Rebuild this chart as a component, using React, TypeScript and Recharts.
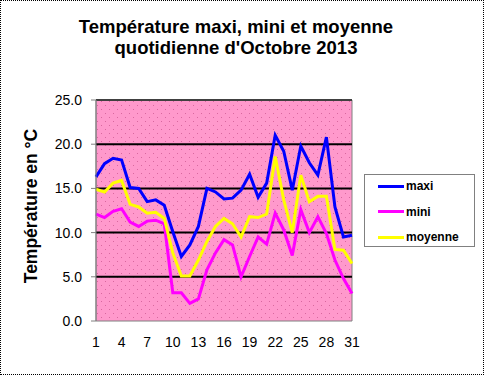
import React from "react";
import {
  LineChart, Line, XAxis, YAxis, ReferenceArea, ReferenceLine, Legend,
} from "recharts";

const days = Array.from({ length: 31 }, (_, i) => i + 1);
const maxi = [16.3, 17.8, 18.4, 18.2, 15.1, 15.0, 13.5, 13.7, 13.1, 10.1, 7.3, 8.6, 10.7, 15.0, 14.6, 13.8, 13.9, 14.8, 16.6, 14.0, 15.6, 21.0, 19.2, 14.8, 19.8, 17.9, 16.5, 20.8, 12.9, 9.5, 9.7];
const mini = [12.1, 11.7, 12.4, 12.7, 11.2, 10.7, 11.3, 11.4, 11.0, 3.2, 3.2, 2.0, 2.5, 5.8, 7.7, 9.2, 8.6, 5.0, 7.3, 9.5, 8.7, 12.2, 10.3, 7.4, 12.6, 10.0, 11.8, 9.9, 6.9, 4.8, 3.1];
const moyenne = [14.9, 14.6, 15.6, 15.9, 13.2, 12.9, 12.2, 12.3, 11.6, 7.7, 5.1, 5.1, 6.9, 9.0, 10.7, 11.6, 11.0, 9.5, 11.8, 11.7, 12.1, 18.6, 13.7, 10.0, 16.5, 13.5, 14.1, 14.1, 8.1, 8.0, 6.5];
const yTicks = [0, 5, 10, 15, 20, 25];
const gridValues = [5, 10, 15, 20];
const boundaryTicks = Array.from({ length: 32 }, (_, i) => i);

const data = days.map((d, i) => ({ day: d, pos: d - 0.5, maxi: maxi[i], mini: mini[i], moyenne: moyenne[i] }));

const series = [
  { key: "maxi", color: "#0000FF" },
  { key: "mini", color: "#FF00FF" },
  { key: "moyenne", color: "#FFFF00" },
];

const font = "'Liberation Sans', Arial, sans-serif";

const LegendBox = () => (
  <div style={{ position: "relative", width: 109, height: 71, border: "1px solid #808080", background: "#fff", boxSizing: "content-box", fontFamily: font }}>
    {series.map((s, i) => (
      <div key={s.key} style={{ position: "absolute", left: 13, top: 3 + i * 25.5, height: 16, display: "flex", alignItems: "center" }}>
        <div style={{ width: 26, height: 3, background: s.color }} />
        <span style={{ fontSize: 12, fontWeight: "bold", marginLeft: 2 }}>{s.key}</span>
      </div>
    ))}
  </div>
);

export default function App() {
  return (
    <div style={{ position: "absolute", left: 0, top: 0, width: 484, height: 375, background: "#fff", fontFamily: font }}>
      <div style={{ position: "absolute", left: 0, top: 0, width: 482, height: 373, border: "1px dotted #000" }} />
      <div style={{ position: "absolute", left: 0, top: 16, width: 472, textAlign: "center", fontSize: 18.5, fontWeight: "bold", lineHeight: "21px" }}>
        Température maxi, mini et moyenne<br />quotidienne d'Octobre 2013
      </div>
      <div style={{ position: "absolute", left: 31, top: 206, transform: "translate(-50%, -50%) rotate(-90deg)", whiteSpace: "nowrap", fontSize: 17.5, fontWeight: "bold" }}>
        Température en °C
      </div>
      <LineChart width={484} height={375} data={data} margin={{ top: 100, right: 132, bottom: 24, left: 36 }} style={{ position: "absolute", left: 0, top: 0 }}>
        <defs>
          <pattern id="dots" width="8" height="8" patternUnits="userSpaceOnUse">
            <rect width="8" height="8" fill="#FF99CC" />
            <rect x="1" y="1" width="1" height="1" fill="#D9679F" />
            <rect x="5" y="5" width="1" height="1" fill="#D9679F" />
          </pattern>
        </defs>
        <XAxis xAxisId="b" type="number" dataKey="pos" domain={[0, 31]} ticks={boundaryTicks} height={0} tickSize={4} tickFormatter={() => ""} stroke="#808080" axisLine={{ stroke: "#808080" }} />
        <XAxis dataKey="day" interval={2} tickLine={false} axisLine={false} height={30} tick={{ fill: "#000", fontSize: 14, fontFamily: font }} tickMargin={10} />
        <YAxis domain={[0, 25]} ticks={yTicks} width={60} tickSize={5} tickMargin={9} stroke="#808080" tickFormatter={(v: number) => v.toFixed(1)} tick={{ fill: "#000", fontSize: 14, fontFamily: font }} />
        <ReferenceArea y1={0} y2={25} fill="url(#dots)" fillOpacity={1} stroke="#808080" strokeWidth={1} ifOverflow="visible" />
        <ReferenceLine y={25} stroke="#404040" strokeWidth={2} />
        {gridValues.map((v) => (
          <ReferenceLine key={v} y={v} stroke="#000" strokeWidth={2} />
        ))}
        {series.map((s) => (
          <Line key={s.key} dataKey={s.key} stroke={s.color} strokeWidth={3} dot={false} isAnimationActive={false} />
        ))}
        <Legend layout="horizontal" verticalAlign="middle" align="center" content={<LegendBox />} wrapperStyle={{ position: "absolute", left: 364, top: 174, width: 111, height: 73 }} />
      </LineChart>
    </div>
  );
}
